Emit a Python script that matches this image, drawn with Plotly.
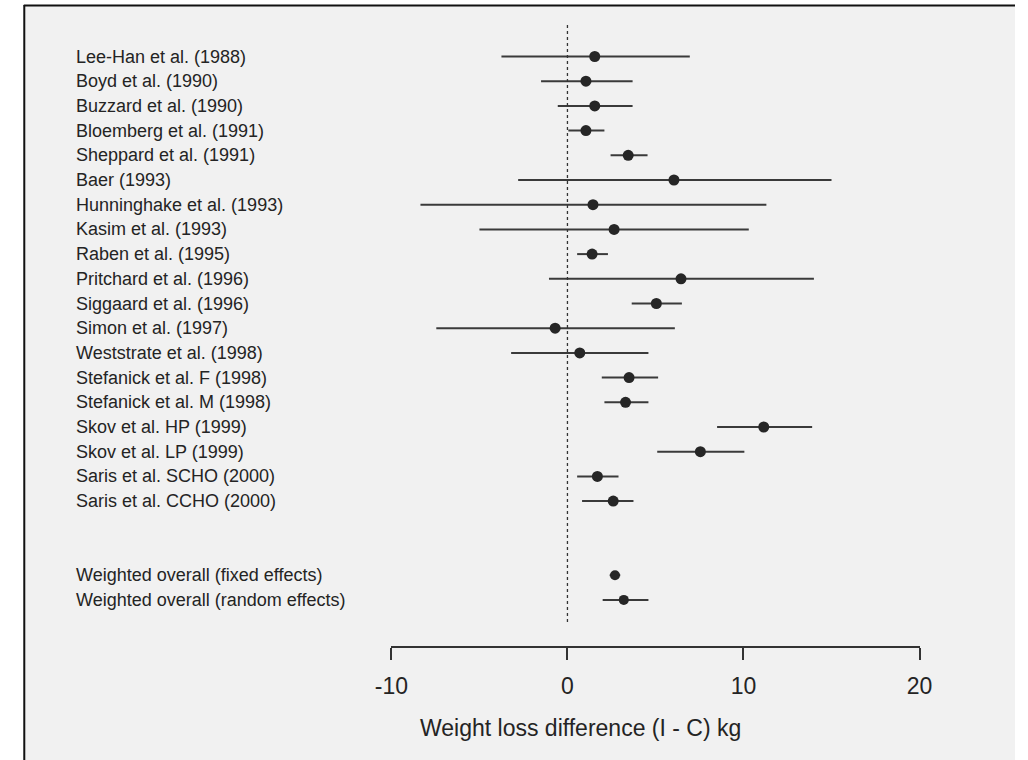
import plotly.graph_objects as go

# ---- data ----
study_labels = [
    "Lee-Han et al. (1988)", "Boyd et al. (1990)", "Buzzard et al. (1990)",
    "Bloemberg et al. (1991)", "Sheppard et al. (1991)", "Baer (1993)",
    "Hunninghake et al. (1993)", "Kasim et al. (1993)", "Raben et al. (1995)",
    "Pritchard et al. (1996)", "Siggaard et al. (1996)", "Simon et al. (1997)",
    "Weststrate et al. (1998)", "Stefanick et al. F (1998)", "Stefanick et al. M (1998)",
    "Skov et al. HP (1999)", "Skov et al. LP (1999)", "Saris et al. SCHO (2000)",
    "Saris et al. CCHO (2000)",
]
study_est = [1.55, 1.05, 1.55, 1.05, 3.45, 6.05, 1.45, 2.65, 1.4, 6.45, 5.05, -0.7,
             0.7, 3.5, 3.3, 11.15, 7.55, 1.7, 2.6]
study_lo = [-3.75, -1.5, -0.55, 0.05, 2.45, -2.8, -8.35, -5.0, 0.55, -1.05, 3.65, -7.45,
            -3.2, 1.95, 2.1, 8.5, 5.1, 0.55, 0.83]
study_hi = [6.95, 3.7, 3.7, 2.1, 4.55, 15.0, 11.3, 10.3, 2.3, 14.0, 6.5, 6.1,
            4.6, 5.15, 4.6, 13.9, 10.05, 2.9, 3.75]

overall_labels = ["Weighted overall (fixed effects)", "Weighted overall (random effects)"]
overall_est = [2.7, 3.2]
overall_lo = [2.4, 2.0]
overall_hi = [3.0, 4.6]

axis_ticks = [-10, 0, 10, 20]
axis_title = "Weight loss difference (I - C) kg"

# ---- layout helpers ----
W, H = 1028, 760
FONT = "Liberation Sans, Arial, Helvetica, sans-serif"
TXT = "#242424"
gap_rows = 2
study_rows = list(range(len(study_labels)))
overall_rows = [len(study_labels) + gap_rows + k for k in range(len(overall_labels))]

row0_px, row_step = 56.5, 24.7
x0_px, x_scale = 567.0, 18.133

def px_to_x(px):
    return (px - x0_px) / x_scale

def py_to_row(py):
    return (py - row0_px) / row_step

fig = go.Figure()

def add_series(rows, est, lo, hi, size):
    fig.add_trace(go.Scatter(
        x=est, y=rows, mode="markers",
        marker=dict(size=size, color="#262626"),
        error_x=dict(type="data", symmetric=False,
                     array=[h - e for h, e in zip(hi, est)],
                     arrayminus=[e - l for e, l in zip(est, lo)],
                     width=0, thickness=2, color="#3a3a3a"),
        showlegend=False, hoverinfo="skip",
    ))

add_series(study_rows, study_est, study_lo, study_hi, 11)
add_series(overall_rows, overall_est, overall_lo, overall_hi, 10)

# invisible trace to host the drawn bottom axis
fig.add_trace(go.Scatter(x=[axis_ticks[0], axis_ticks[-1]], y=[0, 0], xaxis="x2", yaxis="y2",
                         mode="markers", marker=dict(opacity=0), showlegend=False,
                         hoverinfo="skip"))

annotations = []
for r, lab in zip(study_rows + overall_rows, study_labels + overall_labels):
    annotations.append(dict(x=59 / W, xref="paper", y=r, yref="y", text=lab,
                            showarrow=False, xanchor="left", yanchor="middle",
                            font=dict(family=FONT, size=18, color=TXT)))
annotations.append(dict(x=580 / W, xref="paper", y=1 - 728 / H, yref="paper",
                        text=axis_title, showarrow=False, xanchor="center",
                        yanchor="middle", font=dict(family=FONT, size=23, color=TXT)))

shapes = [
    # page background and scan border
    dict(type="rect", xref="paper", yref="paper", x0=7 / W, x1=1, y0=0, y1=1 - 5 / H,
         fillcolor="#f1f1f1", line=dict(width=0), layer="below"),
    dict(type="line", xref="paper", yref="paper", x0=7.5 / W, x1=7.5 / W, y0=0, y1=1 - 5 / H,
         line=dict(color="#111111", width=2)),
    dict(type="line", xref="paper", yref="paper", x0=7 / W, x1=1, y0=1 - 5.5 / H, y1=1 - 5.5 / H,
         line=dict(color="#111111", width=2)),
    # reference line at zero
    dict(type="line", xref="x", yref="y", x0=0, x1=0, y0=py_to_row(25), y1=py_to_row(625),
         line=dict(color="#333333", width=1.3, dash="dot")),
]

fig.update_layout(
    width=W, height=H,
    margin=dict(l=0, r=0, t=0, b=0),
    paper_bgcolor="white", plot_bgcolor="rgba(0,0,0,0)",
    xaxis=dict(domain=[0, 1], range=[px_to_x(0), px_to_x(W)], visible=False),
    yaxis=dict(domain=[0, 1], range=[py_to_row(H), py_to_row(0)], visible=False),
    xaxis2=dict(domain=[(x0_px + x_scale * axis_ticks[0]) / W, (x0_px + x_scale * axis_ticks[-1]) / W],
                range=[axis_ticks[0], axis_ticks[-1]], anchor="free", position=1 - 647 / H,
                side="bottom", showline=True, linecolor="#333333", linewidth=2,
                ticks="outside", ticklen=12, tickwidth=2, tickcolor="#333333",
                tickvals=axis_ticks, ticktext=[str(t) for t in axis_ticks],
                tickfont=dict(family=FONT, size=23, color=TXT),
                ticklabelstandoff=6,
                showgrid=False, zeroline=False),
    yaxis2=dict(domain=[0, 1], anchor="free", position=0, visible=False, range=[-1, 1]),
    annotations=annotations, shapes=shapes,
)

fig.write_html(
    "out.html",
    config={"displayModeBar": False},
    post_script="document.body.style.margin='0';document.body.style.padding='0';"
                "document.body.style.overflow='hidden';",
)
